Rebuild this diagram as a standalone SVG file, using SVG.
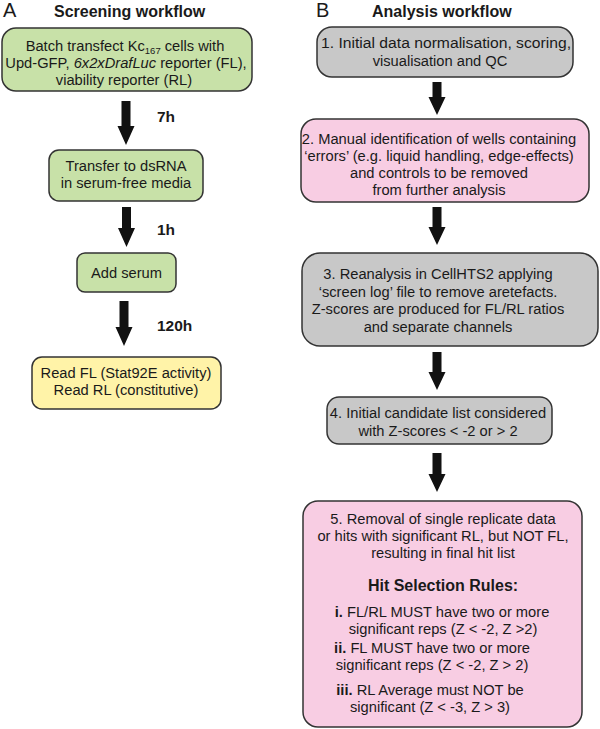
<svg xmlns="http://www.w3.org/2000/svg" width="600" height="729" viewBox="0 0 600 729">
<style>
text{font-family:"Liberation Sans",Arial,sans-serif;fill:#1a1a1a}
.t{font-size:14.7px;text-anchor:middle}
.b{font-weight:bold}
.h{font-size:16px;font-weight:bold}
.lbl{font-size:20px}
.time{font-size:15.5px;font-weight:bold}
.box{stroke:#333;stroke-width:1.5}
.g{fill:#c8e1a8}
.y{fill:#fff3a8}
.p{fill:#f8cde3}
.k{fill:#c8c8c8}
.arr{fill:#111}
</style>
<text class="lbl" x="3" y="17">A</text>
<text class="h" x="54" y="17">Screening workflow</text>
<text class="lbl" x="316" y="17">B</text>
<text class="h" x="372" y="17">Analysis workflow</text>

<g id="s1">
<rect class="box g" x="2" y="28" width="250" height="63" rx="14"/>
<text class="t" x="125" y="51">Batch transfect Kc<tspan font-size="9.5" dy="3">167</tspan><tspan dy="-3"> cells with</tspan></text>
<text class="t" x="126" y="68">Upd-GFP, <tspan font-style="italic">6x2xDrafLuc</tspan> reporter (FL),</text>
<text class="t" x="124" y="85">viability reporter (RL)</text>
</g>
<g id="s2">
<rect class="box g" x="49" y="150" width="154" height="51" rx="10"/>
<text class="t" x="126" y="171">Transfer to dsRNA</text>
<text class="t" x="126" y="188">in serum-free media</text>
</g>
<g id="s3">
<rect class="box g" x="77" y="253" width="99" height="39" rx="8"/>
<text class="t" x="126.5" y="278">Add serum</text>
</g>
<g id="s4">
<rect class="box y" x="32" y="357" width="189" height="52" rx="10"/>
<text class="t" x="126" y="378">Read FL (Stat92E activity)</text>
<text class="t" x="126" y="395">Read RL (constitutive)</text>
</g>

<g id="a1">
<rect class="box k" x="317" y="27" width="256" height="50" rx="15"/>
<text class="t" x="446" y="48" textLength="250" lengthAdjust="spacingAndGlyphs">1. Initial data normalisation, scoring,</text>
<text class="t" x="440" y="66">visualisation and QC</text>
</g>
<g id="a2">
<rect class="box p" x="301" y="119" width="288" height="83" rx="15"/>
<text class="t" x="439" y="144">2. Manual identification of wells containing</text>
<text class="t" x="439" y="161">‘errors’ (e.g. liquid handling, edge-effects)</text>
<text class="t" x="439" y="178">and controls to be removed</text>
<text class="t" x="439" y="195">from further analysis</text>
</g>
<g id="a3">
<rect class="box k" x="302" y="253" width="296" height="93" rx="18"/>
<text class="t" x="438" y="279">3. Reanalysis in CellHTS2 applying</text>
<text class="t" x="438" y="297">‘screen log’ file to remove aretefacts.</text>
<text class="t" x="438" y="314">Z-scores are produced for FL/RL ratios</text>
<text class="t" x="438" y="332">and separate channels</text>
</g>
<g id="a4">
<rect class="box k" x="327" y="397" width="225" height="47" rx="12"/>
<text class="t" x="438" y="418">4. Initial candidate list considered</text>
<text class="t" x="438" y="436">with Z-scores &lt; -2 or &gt; 2</text>
</g>
<g id="a5">
<rect class="box p" x="303" y="501" width="279" height="226" rx="15"/>
<text class="t" x="443" y="524">5. Removal of single replicate data</text>
<text class="t" x="443" y="541">or hits with significant RL, but NOT FL,</text>
<text class="t" x="443" y="558">resulting in final hit list</text>
<text class="h" x="443" y="591" text-anchor="middle">Hit Selection Rules:</text>
<text class="t" x="442" y="617"><tspan class="b">i.</tspan> FL/RL MUST have two or more</text>
<text class="t" x="443" y="634">significant reps (Z &lt; -2, Z &gt;2)</text>
<text class="t" x="432" y="653"><tspan class="b">ii.</tspan> FL MUST have two or more</text>
<text class="t" x="432" y="670">significant reps (Z &lt; -2, Z &gt; 2)</text>
<text class="t" x="430" y="695"><tspan class="b">iii.</tspan> RL Average must NOT be</text>
<text class="t" x="430" y="712">significant (Z &lt; -3, Z &gt; 3)</text>
</g>

<g id="connectors">
<path class="arr" d="M121.5 101H130.5V126H134.5L126 145L117.5 126H121.5Z"/>
<path class="arr" d="M122 207H131V228H135L126.5 247L118 228H122Z"/>
<path class="arr" d="M119.5 301H128.5V327H132.5L124 346L115.5 327H119.5Z"/>
<path class="arr" d="M432.5 82H441.5V97H445.5L437 115L428.5 97H432.5Z"/>
<path class="arr" d="M432.5 207H441.5V227H445.5L437 245L428.5 227H432.5Z"/>
<path class="arr" d="M432.5 352H441.5V372H445.5L437 390L428.5 372H432.5Z"/>
<path class="arr" d="M432.5 453H441.5V474H445.5L437 492L428.5 474H432.5Z"/>
<text class="time" x="157" y="122">7h</text>
<text class="time" x="157" y="235">1h</text>
<text class="time" x="157" y="331">120h</text>
</g>
</svg>
